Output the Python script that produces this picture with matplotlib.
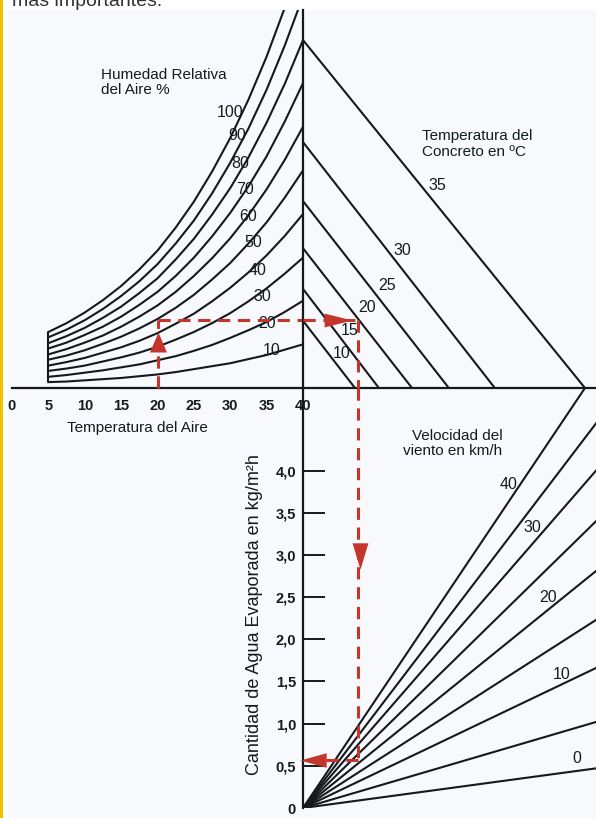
import matplotlib.pyplot as plt
from matplotlib.patches import Rectangle

# tamaño de la imagen en pixeles
W, H = 596, 818
plt.rcParams['font.family'] = ['Liberation Sans', 'DejaVu Sans']

ink = '#15191c'
txt = '#121c20'
red = '#c4352b'

# temperatura del aire (eje inferior izquierdo)
air_temp = [5, 7.5, 10, 12.5, 15, 17.5, 20, 22.5, 25, 27.5, 30, 32.5, 35, 37.5, 40]
air_ticks = [0, 5, 10, 15, 20, 25, 30, 35, 40]

rh_levels = [10, 20, 30, 40, 50, 60, 70, 80, 90, 100]
vp_10 = [0.10, 0.11, 0.13, 0.15, 0.17, 0.20, 0.23, 0.27, 0.32, 0.37, 0.42, 0.49, 0.56, 0.65, 0.74]
vp_20 = [0.19, 0.22, 0.26, 0.30, 0.35, 0.40, 0.47, 0.54, 0.63, 0.73, 0.85, 0.98, 1.12, 1.29, 1.48]
vp_30 = [0.29, 0.33, 0.38, 0.45, 0.52, 0.60, 0.70, 0.82, 0.95, 1.10, 1.27, 1.47, 1.69, 1.94, 2.21]
vp_40 = [0.38, 0.44, 0.51, 0.60, 0.69, 0.80, 0.93, 1.09, 1.26, 1.47, 1.70, 1.96, 2.25, 2.58, 2.95]
vp_50 = [0.48, 0.55, 0.64, 0.75, 0.87, 1.01, 1.17, 1.36, 1.58, 1.84, 2.12, 2.45, 2.81, 3.23, 3.69]
vp_60 = [0.57, 0.66, 0.77, 0.89, 1.04, 1.21, 1.40, 1.63, 1.90, 2.20, 2.54, 2.93, 3.37, 3.87, 4.43]
vp_70 = [0.67, 0.77, 0.90, 1.04, 1.21, 1.41, 1.63, 1.90, 2.21, 2.57, 2.97, 3.42, 3.93, 4.52, 5.17]
vp_80 = [0.76, 0.88, 1.02, 1.19, 1.38, 1.61, 1.86, 2.18, 2.53, 2.94, 3.39, 3.91, 4.50, 5.16, 5.90]
vp_90 = [0.86, 0.99, 1.15, 1.34, 1.56, 1.81, 2.10, 2.45, 2.84, 3.30, 3.82, 4.40, 5.06, 5.81, 6.64]
vp_100 = [0.95, 1.10, 1.28, 1.49, 1.73, 2.01, 2.33, 2.72, 3.16, 3.67, 4.24, 4.89, 5.62, 6.45, 7.38]
humidity_curves = [vp_10, vp_20, vp_30, vp_40, vp_50, vp_60, vp_70, vp_80, vp_90, vp_100]

# rectas de temperatura del concreto: inicio en el eje vertical y corte con el horizontal
concrete_temp = [10, 15, 20, 25, 30, 35]
concrete_vp_start = [1.14, 1.68, 2.37, 3.17, 4.17, 5.90]
concrete_dp_end = [1.13, 1.65, 2.37, 3.17, 4.17, 6.13]

# rectas de velocidad del viento (desde el origen hasta el borde)
wind_speed = [0, 5, 10, 15, 20, 25, 30, 35, 40]
wind_dp_end = [6.37, 6.37, 6.37, 6.37, 6.37, 6.37, 6.37, 6.37, 6.13]
wind_evap_end = [0.47, 1.02, 1.66, 2.23, 2.81, 3.40, 4.00, 4.56, 4.98]

# eje de agua evaporada
evap_ticks = [0, 0.5, 1.0, 1.5, 2.0, 2.5, 3.0, 3.5, 4.0]
evap_labels = ['0', '0,5', '1,0', '1,5', '2,0', '2,5', '3,0', '3,5', '4,0']

# ejemplo (flechas rojas)
ex_air_temp = 20
ex_vapor = 1.16
ex_dp = 1.20
ex_evap = 0.57

# posiciones de las etiquetas
rh_label_T = [35.7, 35.1, 34.4, 33.7, 33.1, 32.4, 32.0, 31.3, 30.9, 30.0]
rh_label_vp = [0.64, 1.10, 1.56, 2.00, 2.46, 2.90, 3.36, 3.81, 4.29, 4.68]
conc_label_dp = [0.83, 1.02, 1.39, 1.83, 2.17, 2.91]
conc_label_vp = [0.59, 0.98, 1.37, 1.73, 2.34, 3.44]
wind_label_speed = [0, 10, 20, 30, 40]
wind_label_dp = [5.96, 5.63, 5.33, 4.98, 4.46]
wind_label_evap = [0.59, 1.58, 2.50, 3.32, 3.83]

fig = plt.figure(figsize=(W / 100, H / 100), dpi=100)
fig.patch.set_facecolor('white')
fig.add_artist(Rectangle((8 / W, 0), 1, (H - 10) / H, transform=fig.transFigure,
                         facecolor='#f8f9fc', edgecolor='none', zorder=-10))
fig.add_artist(Rectangle((0, 0), 2.5 / W, 1, transform=fig.transFigure,
                         facecolor='#f2c200', edgecolor='none'))
fig.text(12 / W, 1 - 6 / H, 'más importantes.', fontsize=14, color='#333333', va='baseline')


def add_px_axes(x0, y0, x1, y1):
    ax = fig.add_axes([x0 / W, 1 - y1 / H, (x1 - x0) / W, (y1 - y0) / H])
    ax.patch.set_visible(False)
    for s in ax.spines.values():
        s.set_visible(False)
        s.set_color(ink)
        s.set_linewidth(1.6)
    ax.set_xticks([])
    ax.set_yticks([])
    return ax


ax_ul = add_px_axes(12, 10, 303, 388)
ax_ur = add_px_axes(303, 10, 596, 388)
ax_lr = add_px_axes(303, 388, 596, 808)

# cuadrante superior izquierdo: humedad relativa
for vp in humidity_curves:
    ax_ul.plot(air_temp, vp, color=ink, lw=1.5)
ax_ul.vlines(air_temp[0], vp_10[0], vp_100[0], color=ink, lw=1.5)
for rh, t, v in zip(rh_levels, rh_label_T, rh_label_vp):
    ax_ul.text(t, v, str(rh), fontsize=11.5, color=txt, ha='center', va='center')
ax_ul.set_xlim(0, 40)
ax_ul.set_ylim(0, 6.41)
ax_ul.spines['bottom'].set_visible(True)
ax_ul.set_xticks(air_ticks)
ax_ul.set_xticklabels([str(t) for t in air_ticks], fontsize=10.5, fontweight='bold', color=txt)
ax_ul.tick_params(axis='x', which='major', length=0, pad=8)
ax_ul.set_xticks([25, 30, 35], minor=True)
ax_ul.tick_params(axis='x', which='minor', direction='in', length=13, width=1.4, color=ink)
ax_ul.text(0.43, -0.106, 'Temperatura del Aire', transform=ax_ul.transAxes,
           fontsize=11, color=txt, ha='center', va='center')
ax_ul.text(12.2, 5.18, 'Humedad Relativa\ndel Aire %', fontsize=11, color=txt,
           ha='left', va='center', linespacing=1.15)

# cuadrante superior derecho: temperatura del concreto
for v0, d1 in zip(concrete_vp_start, concrete_dp_end):
    ax_ur.plot([0, d1], [v0, 0], color=ink, lw=1.5)
for tc, d, v in zip(concrete_temp, conc_label_dp, conc_label_vp):
    ax_ur.text(d, v, str(tc), fontsize=11.5, color=txt, ha='center', va='center')
ax_ur.set_xlim(0, 6.37)
ax_ur.set_ylim(0, 6.41)
ax_ur.spines['left'].set_visible(True)
ax_ur.spines['bottom'].set_visible(True)
ax_ur.text(2.59, 4.14, 'Temperatura del\nConcreto en ºC', fontsize=11, color=txt,
           ha='left', va='center', linespacing=1.15)

# cuadrante inferior derecho: velocidad del viento
for d1, e1 in zip(wind_dp_end, wind_evap_end):
    ax_lr.plot([0, d1], [0, e1], color=ink, lw=1.5)
for ws, d, e in zip(wind_label_speed, wind_label_dp, wind_label_evap):
    ax_lr.text(d, e, str(ws), fontsize=11.5, color=txt, ha='center', va='center')
ax_lr.set_xlim(0, 6.37)
ax_lr.set_ylim(0, 4.98)
ax_lr.spines['left'].set_visible(True)
ax_lr.set_yticks(evap_ticks)
ax_lr.set_yticklabels(evap_labels, fontsize=10.5, fontweight='bold', color=txt)
ax_lr.tick_params(axis='y', direction='in', length=16, width=1.4, color=ink, pad=5)
ax_lr.yaxis.get_major_ticks()[0].tick1line.set_visible(False)
ax_lr.set_ylabel('Cantidad de Agua Evaporada en kg/m²h', fontsize=13, color=txt)
ax_lr.yaxis.set_label_coords(-0.135, 0.46)
ax_lr.text(4.33, 4.32, 'Velocidad del\nviento en km/h', fontsize=11, color=txt,
           ha='right', va='center', multialignment='right', linespacing=1.15)

# recorrido del ejemplo
dash = dict(color=red, lw=2.2, linestyle=(0, (4, 2.5)), zorder=5, clip_on=False)
ax_ul.plot([ex_air_temp, ex_air_temp], [0, ex_vapor], **dash)
ax_ul.plot([ex_air_temp, 40], [ex_vapor, ex_vapor], **dash)
ax_ur.plot([0, ex_dp], [ex_vapor, ex_vapor], **dash)
ax_ur.plot([ex_dp, ex_dp], [ex_vapor, 0], **dash)
ax_lr.plot([ex_dp, ex_dp], [4.98, ex_evap], **dash)
ax_lr.plot([ex_dp, 0], [ex_evap, ex_evap], **dash)

up = [(-0.85, -1), (0.85, -1), (0, 1)]
right = [(-1, -0.5), (1, 0), (-1, 0.5)]
down = [(-0.6, 1), (0.6, 1), (0, -1)]
left = [(1, -0.55), (-1, 0), (1, 0.55)]
mk = dict(color=red, linestyle='none', zorder=6, clip_on=False, markeredgewidth=0)
ax_ul.plot([ex_air_temp], [0.78], marker=up, markersize=14.4, **mk)
ax_ur.plot([0.76], [ex_vapor], marker=right, markersize=20, **mk)
ax_lr.plot([ex_dp + 0.04], [2.99], marker=down, markersize=19, **mk)
ax_lr.plot([0.22], [ex_evap], marker=left, markersize=19, **mk)

plt.savefig('out.png', dpi=100)
